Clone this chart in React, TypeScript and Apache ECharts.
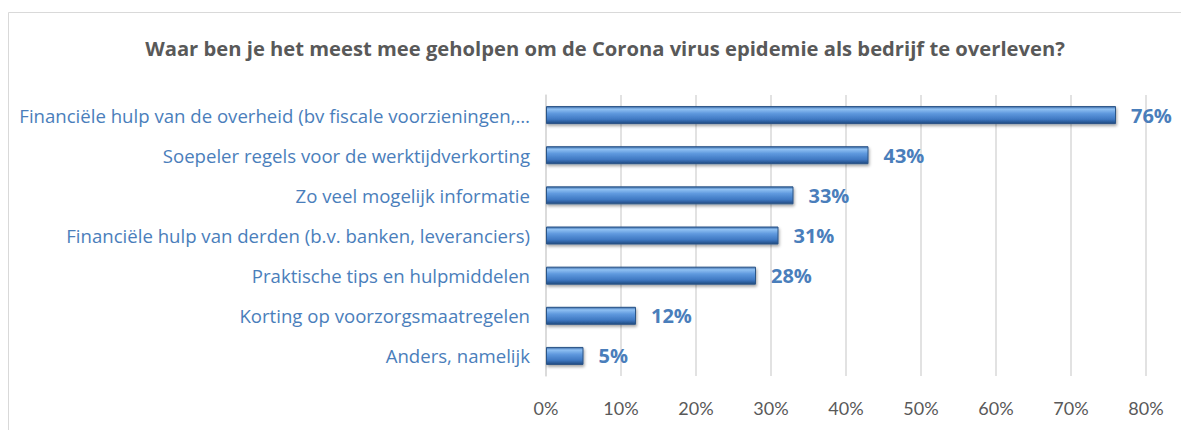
import React, { useEffect, useRef } from "react";
import * as echarts from "echarts";

const title = "Waar ben je het meest mee geholpen om de Corona virus epidemie als bedrijf te overleven?";
const categories = [
  "Financiële hulp van de overheid (bv fiscale voorzieningen,…",
  "Soepeler regels voor de werktijdverkorting",
  "Zo veel mogelijk informatie",
  "Financiële hulp van derden (b.v. banken, leveranciers)",
  "Praktische tips en hulpmiddelen",
  "Korting op voorzorgsmaatregelen",
  "Anders, namelijk",
];
const values = [76, 43, 33, 31, 28, 12, 5];
const axisMax = 80;
const axisStep = 10;

const FONT = "'Open Sans', 'Noto Sans', sans-serif";
const AXFONT = "Lato, 'Noto Sans', sans-serif";

export default function App() {
  const ref = useRef<HTMLDivElement>(null);
  useEffect(() => {
    if (!ref.current) return;
    const chart = echarts.init(ref.current, undefined, { renderer: "svg" });
    chart.setOption({
      animation: false,
      backgroundColor: "#ffffff",
      title: {
        text: title,
        left: 600,
        textAlign: "center",
        top: 33,
        textStyle: { fontFamily: FONT, fontSize: 20.2, fontWeight: "bold", color: "#595959" },
      },
      graphic: [
        {
          type: "rect",
          shape: { x: 8.5, y: 12.5, width: 1200, height: 500 },
          style: { fill: "none", stroke: "#d9d9d9", lineWidth: 1 },
          silent: true,
        },
      ],
      grid: { left: 546, right: 35, top: 95, bottom: 54 },
      xAxis: {
        type: "value",
        min: 0,
        max: axisMax,
        interval: axisStep,
        axisLine: { show: false },
        axisTick: { show: false },
        splitLine: { lineStyle: { color: "#d9d9d9", width: 1.5 } },
        axisLabel: {
          formatter: "{value}%",
          fontFamily: AXFONT,
          fontSize: 18,
          color: "#595959",
          margin: 23,
        },
      },
      yAxis: {
        type: "category",
        data: categories,
        inverse: true,
        axisTick: { show: false },
        axisLine: { show: true, lineStyle: { color: "#d9d9d9", width: 1.5 } },
        axisLabel: {
          fontFamily: FONT,
          fontSize: 18.6,
          color: "#4a7ebb",
          margin: 16,
        },
      },
      series: [
        {
          type: "bar",
          data: values,
          barWidth: 18,
          itemStyle: {
            color: new echarts.graphic.LinearGradient(0, 0, 0, 1, [
              { offset: 0, color: "#3a6aa8" },
              { offset: 0.15, color: "#8fc0f2" },
              { offset: 0.4, color: "#5f99de" },
              { offset: 0.75, color: "#3f78c2" },
              { offset: 1, color: "#1f4a80" },
            ]),
            borderColor: "#2b5487",
            borderWidth: 1,
            shadowBlur: 3,
            shadowColor: "rgba(0,0,0,0.35)",
            shadowOffsetX: 1,
            shadowOffsetY: 2,
          },
          label: {
            show: true,
            position: "right",
            distance: 15,
            formatter: "{c}%",
            fontFamily: FONT,
            fontSize: 20,
            fontWeight: "bold",
            color: "#4a7ebb",
          },
        },
      ],
    });
    return () => chart.dispose();
  }, []);
  return (
    <div
      ref={ref}
      style={{ position: "fixed", left: 0, top: 0, width: 1181, height: 430 }}
    />
  );
}
